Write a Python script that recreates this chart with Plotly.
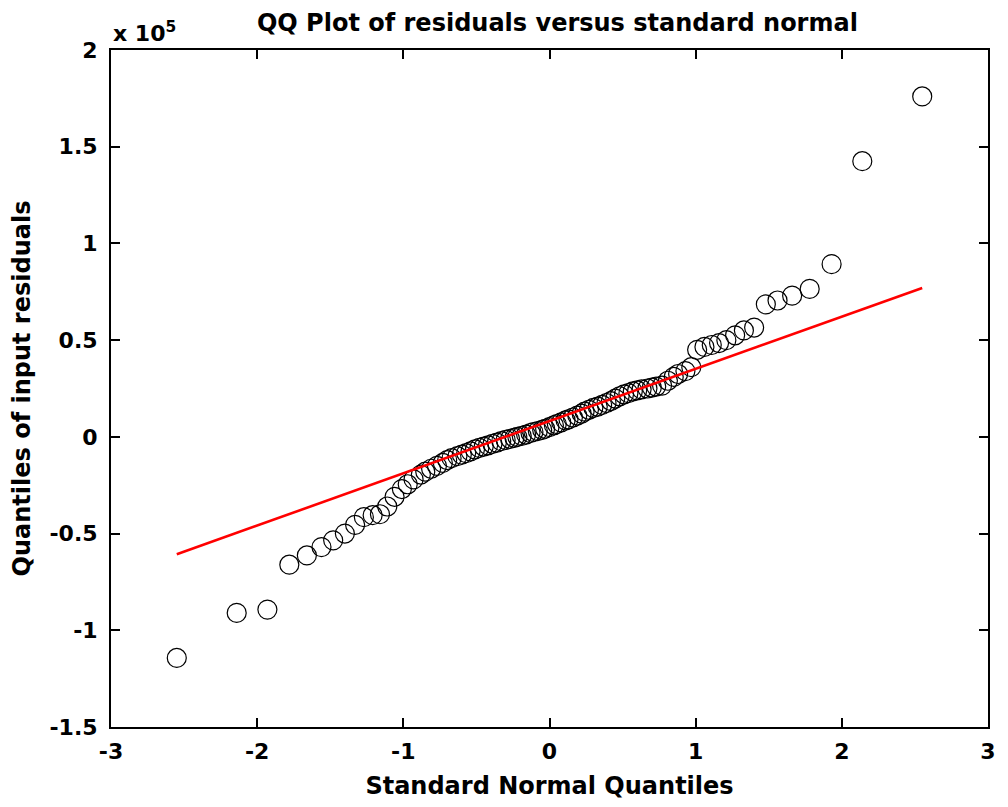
import plotly.graph_objects as go

# Theoretical standard normal quantiles, (i - 0.5) / n positions, n = 93
normal_q = [
    -2.55, -2.14, -1.93, -1.78, -1.66, -1.56, -1.48, -1.40, -1.33, -1.27,
    -1.21, -1.16, -1.11, -1.06, -1.01, -0.97, -0.93, -0.88, -0.85, -0.81,
    -0.77, -0.73, -0.70, -0.67, -0.63, -0.60, -0.57, -0.54, -0.51, -0.48,
    -0.45, -0.42, -0.39, -0.36, -0.33, -0.30, -0.27, -0.24, -0.22, -0.19,
    -0.16, -0.13, -0.11, -0.08, -0.05, -0.03, 0.00, 0.03, 0.05, 0.08,
    0.11, 0.13, 0.16, 0.19, 0.22, 0.24, 0.27, 0.30, 0.33, 0.36,
    0.39, 0.42, 0.45, 0.48, 0.51, 0.54, 0.57, 0.60, 0.63, 0.67,
    0.70, 0.73, 0.77, 0.81, 0.85, 0.88, 0.93, 0.97, 1.01, 1.06,
    1.11, 1.16, 1.21, 1.27, 1.33, 1.40, 1.48, 1.56, 1.66, 1.78,
    1.93, 2.14, 2.55,
]

# Sorted residuals, in units of 1e5
residual_q = [
    -1.143, -0.910, -0.893, -0.661, -0.613, -0.570, -0.535, -0.500, -0.455, -0.415,
    -0.405, -0.400, -0.360, -0.310, -0.270, -0.245, -0.220, -0.195, -0.180, -0.165,
    -0.150, -0.135, -0.120, -0.110, -0.100, -0.092, -0.084, -0.075, -0.065, -0.057,
    -0.050, -0.044, -0.036, -0.030, -0.022, -0.016, -0.010, -0.005, 0.000, 0.005,
    0.012, 0.020, 0.025, 0.030, 0.036, 0.042, 0.050, 0.060, 0.066, 0.075,
    0.085, 0.090, 0.100, 0.110, 0.120, 0.130, 0.140, 0.150, 0.156, 0.165,
    0.175, 0.185, 0.198, 0.210, 0.220, 0.226, 0.235, 0.240, 0.245, 0.250,
    0.255, 0.260, 0.265, 0.290, 0.310, 0.325, 0.340, 0.360, 0.450, 0.465,
    0.475, 0.485, 0.500, 0.525, 0.550, 0.565, 0.685, 0.705, 0.730, 0.765,
    0.893, 1.425, 1.760,
]

# Reference line through the quartiles, extended to the data range
ref_x = [-2.55, 2.55]
ref_y = [-0.607, 0.770]

x_ticks = [-3, -2, -1, 0, 1, 2, 3]
y_ticks = [-1.5, -1, -0.5, 0, 0.5, 1, 1.5, 2]

FONT = "DejaVu Sans, Liberation Sans, Arial, sans-serif"

fig = go.Figure()
fig.add_trace(go.Scatter(
    x=normal_q, y=residual_q, mode="markers",
    marker=dict(symbol="circle-open", size=19, color="black",
                line=dict(color="black", width=1.2)),
    showlegend=False,
))
fig.add_trace(go.Scatter(
    x=ref_x, y=ref_y, mode="lines",
    line=dict(color="#ff0000", width=2.6),
    showlegend=False,
))

axis_common = dict(
    showgrid=False, zeroline=False, showline=True, linecolor="black",
    linewidth=2, mirror="ticks", ticks="inside", ticklen=9, tickwidth=2,
    tickcolor="black",
    tickfont=dict(family=FONT, size=22, color="black", weight="bold"),
)

fig.update_layout(
    width=1008, height=807,
    margin=dict(l=111, r=14, t=50, b=79),
    paper_bgcolor="white", plot_bgcolor="white",
    title=dict(
        text="QQ Plot of residuals versus standard normal",
        x=0.553, xanchor="center", y=0.972, yanchor="middle",
        font=dict(family=FONT, size=24, color="black", weight="bold"),
    ),
    xaxis=dict(
        range=[-3, 3], tickvals=x_ticks, ticktext=[str(v) for v in x_ticks],
        ticklabelstandoff=4,
        title=dict(text="Standard Normal Quantiles", standoff=14,
                   font=dict(family=FONT, size=24, color="black", weight="bold")),
        **axis_common,
    ),
    yaxis=dict(
        range=[-1.5, 2], tickvals=y_ticks, ticktext=[f"{v:g}" for v in y_ticks],
        ticklabelstandoff=7,
        title=dict(text="Quantiles of input residuals", standoff=12,
                   font=dict(family=FONT, size=24, color="black", weight="bold")),
        **axis_common,
    ),
    annotations=[dict(
        text="x 10<sup>5</sup>", xref="paper", yref="paper",
        x=0.0, y=1.0, xanchor="left", yanchor="bottom", yshift=2,
        showarrow=False,
        font=dict(family=FONT, size=22, color="black", weight="bold"),
    )],
)

fig.write_html("out.html")
